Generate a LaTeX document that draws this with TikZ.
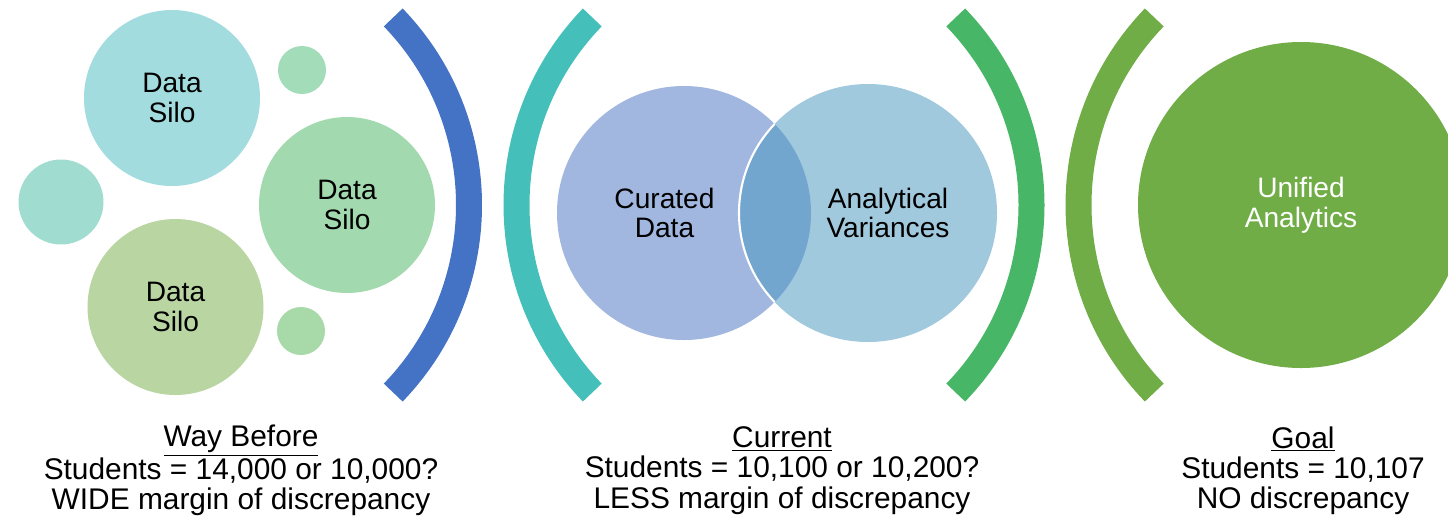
\documentclass[tikz,border=0pt]{standalone}
\usepackage{fontspec}
\setmainfont{Liberation Sans}
\usepackage{tikz}
\usetikzlibrary{positioning}
\definecolor{siloTeal}{HTML}{A2DCDE}
\definecolor{siloMint}{HTML}{A2D9AE}
\definecolor{siloSage}{HTML}{B8D5A2}
\definecolor{dotTeal}{HTML}{A0DDD0}
\definecolor{dotMint}{HTML}{A2DCB8}
\definecolor{dotSage}{HTML}{A8D9A8}
\definecolor{arcBlue}{HTML}{4472C4}
\definecolor{arcTeal}{HTML}{45BFB9}
\definecolor{arcGreen}{HTML}{47B767}
\definecolor{arcOlive}{HTML}{70AD47}
\definecolor{vennLeft}{HTML}{A1B7E0}
\definecolor{vennRight}{HTML}{A1C9DE}
\definecolor{vennLens}{HTML}{73A6CF}

\begin{document}
\begin{tikzpicture}[
		bubble/.style={circle, inner sep=0pt, align=center, font=\fontsize{16}{17}\selectfont},
		bracket/.style={line width=0.52cm},
		caption/.style={align=center, inner sep=0pt, font=\fontsize{17}{17.2}\selectfont}]
		\useasboundingbox (0,0) rectangle (28.96,-10.30);
		\clip (0,0) rectangle (28.96,-10.30);
		% way before: silos
		\node [bubble, fill=siloTeal, minimum size=3.52cm](silo1) at (3.44,-1.96) {Data\\Silo};
		\node [bubble, fill=siloMint, minimum size=3.52cm](silo2) at (6.94,-4.10) {Data\\Silo};
		\node [bubble, fill=siloSage, minimum size=3.52cm](silo3) at (3.51,-6.14) {Data\\Silo};
		\node [bubble, fill=dotTeal, minimum size=1.70cm](dot1) at (1.22,-4.04) {};
		\node [bubble, fill=dotMint, minimum size=0.96cm](dot2) at (6.04,-1.40) {};
		\node [bubble, fill=dotSage, minimum size=0.96cm](dot3) at (6.02,-6.62) {};
		\draw [bracket, arcBlue] ([shift={(3.98,-4.10)}]-44:5.40) arc [start angle=-44, end angle=44, radius=5.40];
		% current: venn
		\draw [bracket, arcTeal] ([shift={(15.73,-4.10)}]136:5.40) arc [start angle=136, end angle=224, radius=5.40];
		\node [bubble, fill=vennLeft, minimum size=5.08cm](curated) at (13.68,-4.26) {};
		\node [bubble, fill=vennRight, minimum size=5.16cm](variances) at (17.36,-4.26) {};
		\begin{scope}
		\clip (13.68,-4.26) circle (2.54);
		\fill [vennLens] (17.36,-4.26) circle (2.58);
		\draw [white, line width=1.2pt] (17.36,-4.26) circle (2.58);
		\end{scope}
		\node [bubble](curated_txt) at (13.29,-4.26) {Curated\\Data};
		\node [bubble](variances_txt) at (17.76,-4.26) {Analytical\\Variances};
		\draw [bracket, arcGreen] ([shift={(15.23,-4.10)}]-44:5.40) arc [start angle=-44, end angle=44, radius=5.40];
		% goal
		\draw [bracket, arcOlive] ([shift={(26.97,-4.10)}]136:5.40) arc [start angle=136, end angle=224, radius=5.40];
		\node [bubble, fill=arcOlive, text=white, minimum size=6.52cm](unified) at (26.02,-4.10) {Unified\\Analytics};
		% captions
		\node [caption](before) at (4.82,-9.41) {\underline{Way Before}\\Students = 14,000 or 10,000?\\WIDE margin of discrepancy};
		\node [caption](current) at (15.64,-9.41) {\underline{Current}\\Students = 10,100 or 10,200?\\LESS margin of discrepancy};
		\node [caption](goal) at (26.06,-9.41) {\underline{Goal}\\Students = 10,107\\NO discrepancy};
\end{tikzpicture}
\end{document}
